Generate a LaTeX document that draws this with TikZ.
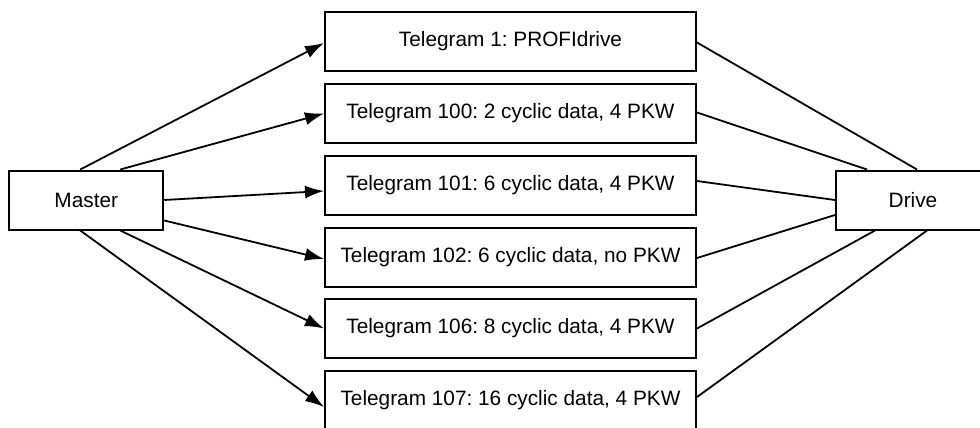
\documentclass[tikz,border=0pt]{standalone}
\usepackage{fontspec}
\setmainfont{Liberation Sans}
\usetikzlibrary{calc}
\usetikzlibrary{arrows.meta}
\frenchspacing

\begin{document}
\begin{tikzpicture}[x=0.5pt,y=-0.5pt,
    box/.style={draw, line width=1pt, inner sep=0pt, minimum height=29.5pt,
                font=\fontsize{10.4}{12}\selectfont},
    endbox/.style={box, minimum width=77pt},
    telebox/.style={box, minimum width=185.5pt},
    link/.style={line width=0.9pt},
    arrowlink/.style={link, -{Latex[length=9.5pt,width=6.5pt]}}]

    % Fix the frame of the picture
    \useasboundingbox (0,0) rectangle (980,428);

    % Draw the master and the drive
    \node[endbox] (master) at (86.25,200) {Master};
    \node[endbox] (drive) at (913,200) {Drive};

    % Draw the telegram boxes
    \node[telebox] (t1) at (510.5,41.5) {Telegram 1: PROFIdrive};
    \node[telebox] (t100) at (510.5,113.5) {Telegram 100: 2 cyclic data, 4 PKW};
    \node[telebox] (t101) at (510.5,185) {Telegram 101: 6 cyclic data, 4 PKW};
    \node[telebox] (t102) at (510.5,257) {Telegram 102: 6 cyclic data, no PKW};
    \node[telebox] (t106) at (510.5,328.5) {Telegram 106: 8 cyclic data, 4 PKW};
    \node[telebox] (t107) at (510.5,400.5) {Telegram 107: 16 cyclic data, 4 PKW};

    % Draw the links from the master
    \draw[arrowlink] ($(master.north)+(-6,0)$) -- ($(t1.west)+(0,1.5)$);
    \draw[arrowlink] ($(master.north)+(34,0)$) -- (t100.west);
    \draw[arrowlink] (master.east) -- ($(t101.west)+(0,6)$);
    \draw[arrowlink] ($(master.east)+(0,20.5)$) -- ($(t102.west)+(0,2)$);
    \draw[arrowlink] ($(master.south)+(34,0)$) -- (t106.west);
    \draw[arrowlink] ($(master.south)+(-6,0)$) -- ($(t107.west)+(0,6.5)$);

    % Draw the links to the drive
    \draw[link] ($(t1.east)+(0,1)$) -- ($(drive.north)+(4,0)$);
    \draw[link] ($(t100.east)+(0,-1)$) -- ($(drive.north)+(-46,0)$);
    \draw[link] ($(t101.east)+(0,-4)$) -- (drive.west);
    \draw[link] ($(t102.east)+(0,1)$) -- ($(drive.west)+(0,15)$);
    \draw[link] (t106.east) -- ($(drive.south)+(-38,0)$);
    \draw[link] ($(t107.east)+(0,-3.5)$) -- ($(drive.south)+(14,0)$);

\end{tikzpicture}
\end{document}
